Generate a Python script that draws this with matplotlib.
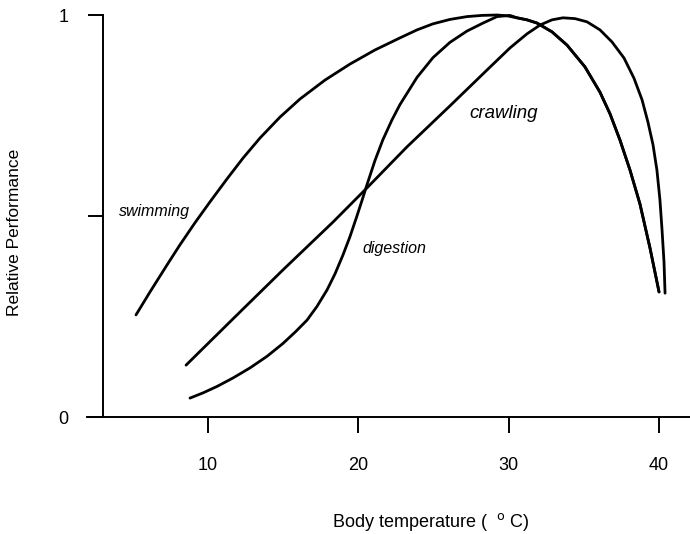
import matplotlib.pyplot as plt

plt.rcParams['font.family'] = ['Liberation Sans', 'DejaVu Sans']

# body temperature (C) and relative performance
swim_t = [5.21, 6.14, 7.27, 8.13, 9.13, 10.13, 11.26, 12.33, 13.46, 14.79, 16.12, 17.78,
          19.45, 21.11, 22.77, 23.91, 24.97, 26.10, 27.23, 28.23, 29.23, 29.89,
          30.56, 31.22, 31.89, 32.89, 33.89, 35.08, 36.08, 36.75, 37.41, 38.08, 38.74,
          39.41, 40.01]
swim_v = [0.254, 0.311, 0.378, 0.428, 0.483, 0.535, 0.592, 0.644, 0.694, 0.746, 0.791, 0.838,
          0.878, 0.913, 0.943, 0.963, 0.978, 0.989, 0.996, 0.999, 1.0, 0.998,
          0.993, 0.988, 0.980, 0.958, 0.925, 0.871, 0.808, 0.754, 0.689, 0.614, 0.530,
          0.420, 0.311]

dig_t = [8.80, 9.67, 10.60, 11.66, 12.79, 13.93, 14.99, 15.85, 16.59, 17.25, 17.92, 18.45,
         18.98, 19.45, 19.91, 20.25, 20.58, 21.11, 21.64, 22.24, 22.77, 23.91, 24.97, 26.10,
         27.23, 28.30, 29.23, 30.09,
         30.56, 31.22, 31.89, 32.89, 33.89, 35.08, 36.08, 36.75, 37.41, 38.08, 38.74,
         39.41, 40.01]
dig_v = [0.047, 0.060, 0.076, 0.097, 0.122, 0.151, 0.183, 0.213, 0.241, 0.275, 0.316, 0.356,
         0.403, 0.449, 0.500, 0.539, 0.578, 0.638, 0.690, 0.739, 0.777, 0.845, 0.894, 0.932,
         0.960, 0.980, 0.996, 0.999,
         0.993, 0.988, 0.980, 0.958, 0.925, 0.871, 0.808, 0.754, 0.689, 0.614, 0.530,
         0.420, 0.311]

crawl_t = [8.54, 11.66, 14.99, 18.32, 20.58, 23.24, 26.10, 28.56, 30.09, 31.22, 32.09, 32.89,
           33.62, 34.42, 35.22, 36.08, 36.88, 37.68, 38.34, 38.88, 39.27, 39.61, 39.87,
           40.07, 40.21, 40.34, 40.41]
crawl_v = [0.129, 0.244, 0.366, 0.485, 0.570, 0.672, 0.774, 0.863, 0.918, 0.953, 0.975, 0.988,
           0.993, 0.991, 0.983, 0.963, 0.933, 0.893, 0.843, 0.789, 0.734, 0.677, 0.614,
           0.540, 0.465, 0.386, 0.308]

labels = ['swimming', 'crawling', 'digestion']
label_t = [6.47, 29.69, 22.38]
label_v = [0.512, 0.754, 0.420]
label_size = [11.5, 13.5, 11.5]

fig = plt.figure(figsize=(6.9, 5.34), dpi=100)
ax = fig.add_axes([87 / 690, 117 / 534, 603 / 690, 402 / 534])

for t, v in [(swim_t, swim_v), (dig_t, dig_v), (crawl_t, crawl_v)]:
    ax.plot(t, v, color='black', lw=2.0, solid_joinstyle='round',
            solid_capstyle='round', clip_on=False)

for txt, t, v, s in zip(labels, label_t, label_v, label_size):
    ax.text(t, v, txt, style='italic', fontsize=s, ha='center', va='center')

ax.set_xlim(1.95, 42.07)
ax.set_ylim(0, 1)

ax.spines['top'].set_visible(False)
ax.spines['right'].set_visible(False)
ax.spines['left'].set_position(('data', 3.0))
ax.spines['left'].set_linewidth(1.4)
ax.spines['bottom'].set_linewidth(1.4)

ax.set_xticks([10, 20, 30, 40])
ax.set_xticklabels(['10', '20', '30', '40'])
ax.set_yticks([0, 0.5, 1])
ax.set_yticklabels(['0', '', '1'])
ax.tick_params(axis='x', direction='out', length=11.5, width=1.4, pad=17, labelsize=13)
ax.tick_params(axis='y', direction='out', length=10.8, width=1.4, pad=14, labelsize=13)

fig.text(15 / 690, 1 - 232 / 534, 'Relative Performance', rotation=90,
         ha='center', va='center', fontsize=12.5)
fig.text(431 / 690, 1 - 522 / 534, r'Body temperature (  $^{\mathrm{o}}$ C)',
         ha='center', va='center', fontsize=13)

fig.savefig('out.png', dpi=100)
